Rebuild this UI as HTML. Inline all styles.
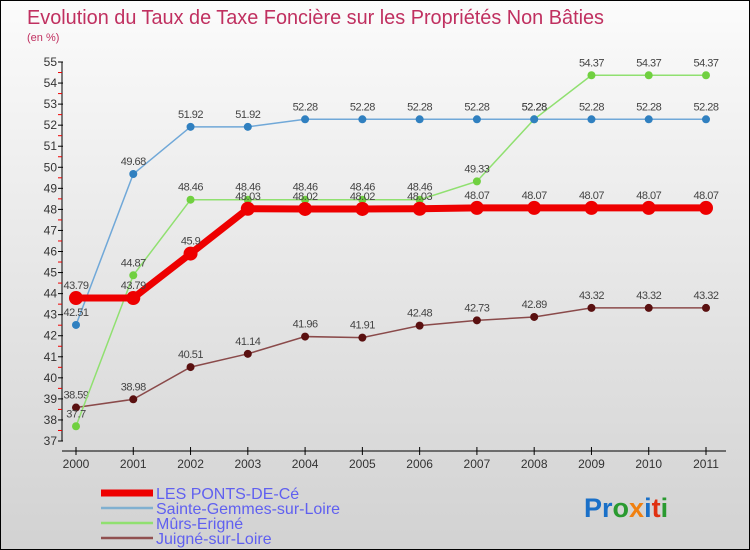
<!DOCTYPE html>
<html><head><meta charset="utf-8"><style>
body{margin:0}
#c{width:748px;height:548px;border:1px solid #000;background:linear-gradient(#fbfbfb,#d2d2d2);position:relative;overflow:hidden;font-family:"Liberation Sans","DejaVu Sans",sans-serif}
</style></head><body>
<div id="c">
<svg id="s" width="748" height="548">
<text x="26" y="23" font-size="20" fill="#c03060" textLength="577" lengthAdjust="spacingAndGlyphs">Evolution du Taux de Taxe Foncière sur les Propriétés Non Bâties</text>
<text x="26" y="40" font-size="11" fill="#c03060">(en %)</text>
<text x="583" y="516" font-size="27" font-weight="bold"><tspan fill="#1a70c8">Pr</tspan><tspan fill="#2a9a30">o</tspan><tspan fill="#f08010">x</tspan><tspan fill="#1a70c8">i</tspan><tspan fill="#e03010">t</tspan><tspan fill="#2a9a30">i</tspan></text>
</svg></div>
<script>
const years=["2000","2001","2002","2003","2004","2005","2006","2007","2008","2009","2010","2011"];
const yTicks=[37,38,39,40,41,42,43,44,45,46,47,48,49,50,51,52,53,54,55];
const lpc=[43.79,43.79,45.9,48.03,48.02,48.02,48.03,48.07,48.07,48.07,48.07,48.07];
const sgl=[42.51,49.68,51.92,51.92,52.28,52.28,52.28,52.28,52.28,52.28,52.28,52.28];
const mue=[37.7,44.87,48.46,48.46,48.46,48.46,48.46,49.33,52.28,54.37,54.37,54.37];
const jsl=[38.59,38.98,40.51,41.14,41.96,41.91,42.48,42.73,42.89,43.32,43.32,43.32];
const seriesNames=["LES PONTS-DE-Cé","Sainte-Gemmes-sur-Loire","Mûrs-Erigné","Juigné-sur-Loire"];
const NS="http://www.w3.org/2000/svg",s=document.getElementById('s');
const X=i=>75+i*(630/11), Y=v=>440-(v-37)*(379/18);
function el(t,a,n){const e=document.createElementNS(NS,t);for(const k in a)e.setAttribute(k,a[k]);


s.appendChild(e);return e;}
el('line',{x1:61,y1:Y(55),x2:61,y2:Y(37),stroke:'#000'},'y-axis');
yTicks.forEach(v=>{el('line',{x1:57,x2:62,y1:Y(v),y2:Y(v),stroke:'#000'},'y-tick');
if(v<55)el('line',{x1:57,x2:61,y1:Y(v+.5),y2:Y(v+.5),stroke:'#e00'},'y-minor-tick');
const t=el('text',{x:56,y:Y(v)+4,'font-size':12,'text-anchor':'end',fill:'#333'},'y-tick-label');t.textContent=v;});
el('line',{x1:61,y1:450,x2:725,y2:450,stroke:'#000'},'x-axis');
years.forEach((y,i)=>{el('line',{x1:X(i),x2:X(i),y1:446,y2:454,stroke:'#000'},'x-tick');
const t=el('text',{x:X(i),y:467,'font-size':12,'text-anchor':'middle',fill:'#333'},'x-tick-label');t.textContent=y;});
function series(d,col,w,r,dot,name){
el('polyline',{points:d.map((v,i)=>X(i)+','+Y(v)).join(' '),fill:'none',stroke:col,'stroke-width':w},name+'-line');
d.forEach((v,i)=>{el('circle',{cx:X(i),cy:Y(v),r:r,fill:dot},name+'-point');
const t=el('text',{x:X(i),y:Y(v)-9,'font-size':11,'text-anchor':'middle',fill:'#444','letter-spacing':'-0.5'},name+'-value-label');t.textContent=v;});}
series(jsl,'#8a4a4a',1.5,4,'#5a1010','juigne');
series(mue,'#90e070',1.5,4,'#70d040','murs-erigne');
series(sgl,'#70a8d8',1.5,4,'#3080c0','sainte-gemmes');
series(lpc,'#ee0000',7,7,'#ee0000','les-ponts-de-ce');
const lc=['#ee0000','#80b0d0','#90e070','#905050'],lw=[7,2.5,2.5,2.5];
seriesNames.forEach((n,i)=>{const y=492+i*15;
el('line',{x1:100,x2:152,y1:y,y2:y,stroke:lc[i],'stroke-width':lw[i]},'legend-swatch');
const t=el('text',{x:155,y:y+6,'font-size':16,fill:'#6060f0'},'legend-entry');t.textContent=n;});
</script></body></html>
